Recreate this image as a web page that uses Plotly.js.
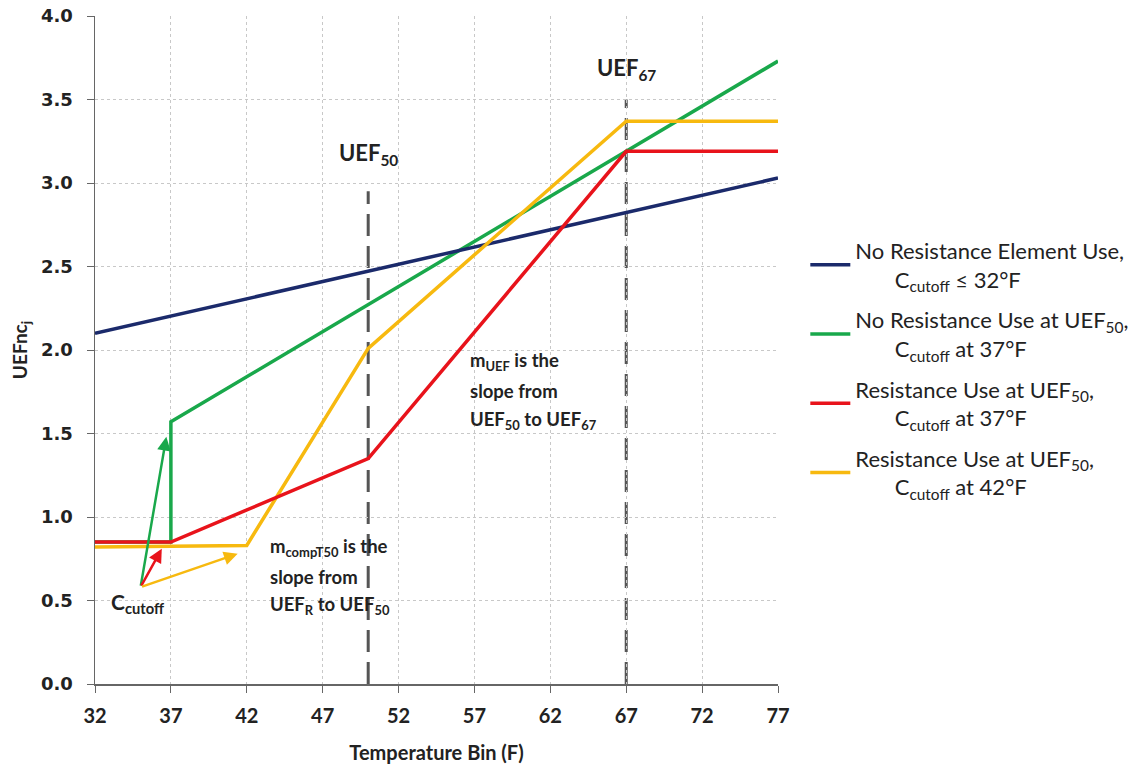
<!DOCTYPE html>
<html><head><meta charset="utf-8">
<script src="https://cdn.plot.ly/plotly-3.0.1.min.js"></script>
<style>body{margin:0;background:#fff}#chart{width:1148px;height:765px}</style>
</head><body><div id="chart"></div>
<script>
// Data
const blueX = [32, 77];
const blueY = [2.10, 3.03];
const greenX = [32, 37, 37, 77];
const greenY = [0.85, 0.85, 1.57, 3.73];
const redX = [32, 37, 50, 67, 77];
const redY = [0.85, 0.85, 1.35, 3.19, 3.19];
const yellowX = [32, 42, 50, 67, 77];
const yellowY = [0.82, 0.83, 2.01, 3.37, 3.37];
const ind = "\u00a0\u00a0\u00a0\u00a0\u00a0\u00a0\u00a0";
const seriesNames = [
  "No Resistance Element Use,<br>" + ind + "C<sub>cutoff</sub> ≤ 32°F",
  "No Resistance Use at UEF<sub>50</sub>,<br>" + ind + "C<sub>cutoff</sub> at 37°F",
  "Resistance Use at UEF<sub>50</sub>,<br>" + ind + "C<sub>cutoff</sub> at 37°F",
  "Resistance Use at UEF<sub>50</sub>,<br>" + ind + "C<sub>cutoff</sub> at 42°F"
];
const xTicks = [32, 37, 42, 47, 52, 57, 62, 67, 72, 77];
const yTicks = [0, 0.5, 1, 1.5, 2, 2.5, 3, 3.5, 4];
// reference markers (vertical dashed lines at UEF50 and UEF67)
const markerX = [50, 67];
const markerTop = [2.95, 3.5];
// arrows from Ccutoff point
const arrowFrom = [35, 0.58];
const arrowToX = [36.7, 36.4, 41.4];
const arrowToY = [1.48, 0.81, 0.78];
// note texts
const noteUEF = ['<b>m<sub>UEF</sub> is the</b>', '<b>slope from</b>', '<b>UEF<sub>50</sub> to UEF<sub>67</sub></b>'];
const noteUEFPos = {x: 56.6, y: [1.93, 1.755, 1.58]};
const noteComp = ['<b>m<sub>compT50</sub> is the</b>', '<b>slope from</b>', '<b>UEF<sub>R</sub> to UEF<sub>50</sub></b>'];
const noteCompPos = {x: 43.4, y: [0.815, 0.64, 0.47]};

const colors = ['#1b2a6b', '#19a84b', '#e8131b', '#f7b90f'];
const font = 'Lato, "Open Sans", sans-serif';

const order = [[greenX, greenY, 1], [blueX, blueY, 0], [yellowX, yellowY, 3], [redX, redY, 2]];
const traces = order.map(([x, y, i]) => ({
  x: x, y: y, type: 'scatter', mode: 'lines', name: seriesNames[i],
  line: {color: colors[i], width: 3.5}, legendrank: i + 1, legendgroup: 'g' + i,
  hoverinfo: 'skip'
}));

const shapes = markerX.map((x, i) => ({
  type: 'line', xref: 'x', yref: 'y', x0: x, x1: x, y0: 0, y1: markerTop[i],
  line: {color: '#555', width: 3, dash: '22px,10px'}, layer: 'below'
}));

const arrowColors = [colors[1], colors[2], colors[3]];
const annotations = arrowToX.map((x, i) => ({
  x: x, y: arrowToY[i], ax: arrowFrom[0], ay: arrowFrom[1], axref: 'x', ayref: 'y',
  xref: 'x', yref: 'y', text: '', showarrow: true, arrowhead: 2, arrowsize: 1.1,
  arrowwidth: 2.5, arrowcolor: arrowColors[i]
}));
annotations.push(
  {x: 50, y: 3.07, xref: 'x', yref: 'y', text: '<b>UEF<sub>50</sub></b>', showarrow: false, font: {family: font, size: 22, color: '#222'}, yanchor: 'bottom'},
  {x: 67, y: 3.58, xref: 'x', yref: 'y', text: '<b>UEF<sub>67</sub></b>', showarrow: false, font: {family: font, size: 22, color: '#222'}, yanchor: 'bottom'},
  {x: 34.8, y: 0.58, xref: 'x', yref: 'y', text: '<b>C<sub>cutoff</sub></b>', showarrow: false, font: {family: font, size: 21, color: '#222'}, yanchor: 'top'}
);
noteUEF.forEach((t, i) => annotations.push({x: noteUEFPos.x, y: noteUEFPos.y[i], xref: 'x', yref: 'y', text: t, showarrow: false, xanchor: 'left', yanchor: 'middle', font: {family: font, size: 18.5, color: '#222'}}));
noteComp.forEach((t, i) => annotations.push({x: noteCompPos.x, y: noteCompPos.y[i], xref: 'x', yref: 'y', text: t, showarrow: false, xanchor: 'left', yanchor: 'middle', font: {family: font, size: 18.5, color: '#222'}}));

const layout = {
  width: 1148, height: 765,
  margin: {l: 95, r: 370, t: 16, b: 81},
  paper_bgcolor: '#fff', plot_bgcolor: '#fff',
  font: {family: font, color: '#222'},
  showlegend: true,
  legend: {x: 1.04, y: 0.68, xanchor: 'left', yanchor: 'top', font: {family: font, size: 22, color: '#222'},
           tracegroupgap: 9, itemwidth: 40, bgcolor: 'rgba(0,0,0,0)'},
  xaxis: {range: [32, 77], tickvals: xTicks, ticktext: xTicks.map(String), showgrid: true,
          gridcolor: '#c8c8c8', griddash: 'dot', gridwidth: 1, zeroline: false,
          showline: true, linecolor: '#666', linewidth: 1.5, ticks: 'outside', ticklen: 7, tickcolor: '#666',
          ticklabelstandoff: 6,
          tickfont: {family: font, size: 20, color: '#222', weight: 'bold'},
          title: {text: '<b>Temperature Bin (F)</b>', font: {family: font, size: 20, color: '#222'}, standoff: 20}},
  yaxis: {range: [0, 4], tickvals: yTicks, tickformat: '.1f', showgrid: true,
          gridcolor: '#c8c8c8', griddash: 'dot', gridwidth: 1, zeroline: false,
          showline: true, linecolor: '#666', linewidth: 1.5, ticks: 'outside', ticklen: 7, tickcolor: '#666',
          ticklabelstandoff: 10,
          tickfont: {family: '"DejaVu Sans", sans-serif', size: 18, color: '#222', weight: 'bold'},
          title: {text: '<b>UEFnc<sub>j</sub></b>', font: {family: font, size: 19, color: '#222'}, standoff: 8}},
  shapes: shapes,
  annotations: annotations
};
Plotly.newPlot('chart', traces, layout, {displayModeBar: false, staticPlot: true});
</script></body></html>
